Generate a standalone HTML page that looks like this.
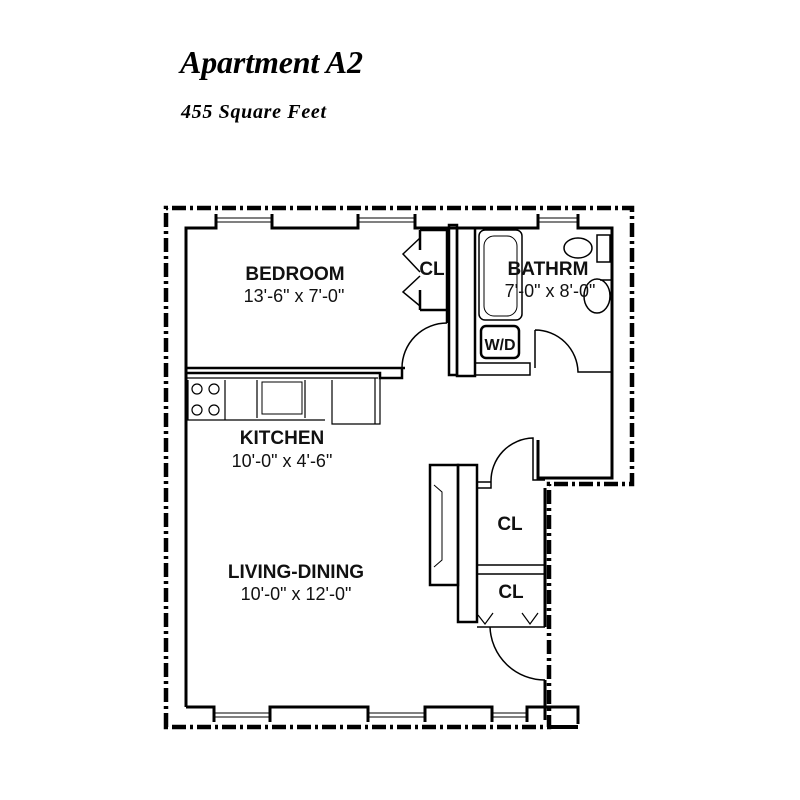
<!DOCTYPE html>
<html><head><meta charset="utf-8"><style>
html,body{margin:0;padding:0;background:#fff;width:800px;height:800px;overflow:hidden}
svg{display:block}
.t{font-family:"Liberation Serif",serif;font-style:italic;fill:#000}
.b{font-family:"Liberation Sans",sans-serif;font-weight:bold;fill:#111;text-anchor:middle}
.n{font-family:"Liberation Sans",sans-serif;fill:#111;text-anchor:middle}
</style></head><body>
<svg width="800" height="800" viewBox="0 0 800 800" xmlns="http://www.w3.org/2000/svg">
<text class="t" x="180" y="73" font-size="32" font-weight="bold" textLength="183">Apartment A2</text>
<text class="t" x="181" y="118" font-size="20" font-weight="bold" textLength="145">455 Square Feet</text>

<g fill="none" stroke="#000">
<path d="M166 727 L166 208 L632 208 L632 484 L549 484 L549 727 Z" stroke-width="4.5" stroke-dasharray="14 4 3 4"/>
<path d="M549 727 H578" stroke-width="4"/>
<path d="M186 707 L186 228 L216 228 L216 214 M272 214 L272 228 L358 228 L358 214 M415 214 L415 228 L538 228 L538 214 M578 214 L578 228 L612 228 L612 478 L538 478 L538 440" stroke-width="3"/>
<path d="M545 488 L545 627 M545 680 L545 720 M186 707 L214 707 L214 722 M270 722 L270 707 L368 707 L368 722 M425 722 L425 707 L492 707 L492 722 M527 722 L527 707 L578 707 L578 724" stroke-width="3"/>
<path d="M216 218 H272 M216 222 H272 M358 218 H415 M358 222 H415 M538 218 H578 M538 222 H578 M214 713 H270 M214 717 H270 M368 713 H425 M368 717 H425 M492 713 H527 M492 717 H527" stroke-width="1"/>
<path d="M186 368 H405 M186 373 H380 L380 378 H402 L402 368" stroke-width="2.5"/>
<path d="M420 230 H447 V323 M420 310 H447 M420 230 V250 M420 290 V310" stroke-width="2.5"/>
<path d="M420 238 L403 254 L420 272 M420 276 L403 292 L420 306" stroke-width="1.5"/>
<rect x="449" y="225" width="8" height="150" stroke-width="2.5"/>
<rect x="457" y="228" width="18" height="148" stroke-width="2.5"/>
<path d="M447 323 A45 45 0 0 0 402 368" stroke-width="1.5"/>
<rect x="479" y="230" width="43" height="90" rx="6" stroke-width="1.5"/>
<rect x="484" y="236" width="33" height="80" rx="10" stroke-width="1"/>
<rect x="481" y="326" width="38" height="32" rx="5" stroke-width="2.5"/>
<path d="M475 363 H530 V375 H475" stroke-width="1.5"/>
<path d="M535 330 V368 M535 330 A43 43 0 0 1 578 372 H612" stroke-width="1.5"/>
<ellipse cx="578" cy="248" rx="14" ry="10" stroke-width="1.5"/>
<path d="M597 235 H610 V262 H597 Z" stroke-width="1.5"/>
<ellipse cx="597" cy="296" rx="13" ry="17" stroke-width="1.5"/>
<path d="M600 280 H612 V316" stroke-width="1.5"/>
<path d="M186 378 H378 M188 380 V420 H325 M225 380 V420 M257 380 V418 M305 380 V418 M332 380 V424 H380 V378 M375 378 V424" stroke-width="1.2"/>
<rect x="262" y="382" width="40" height="32" stroke-width="1"/>
<circle cx="197" cy="389" r="5" stroke-width="1.2"/><circle cx="214" cy="389" r="5" stroke-width="1.2"/>
<circle cx="197" cy="410" r="5" stroke-width="1.2"/><circle cx="214" cy="410" r="5" stroke-width="1.2"/>
<path d="M477 482 H491 V488 H477 M491 482 A43 43 0 0 1 533 438 V480 H545" stroke-width="1.5"/>
<rect x="430" y="465" width="28" height="120" stroke-width="2.5"/>
<rect x="458" y="465" width="19" height="157" stroke-width="2.5"/>
<path d="M434 485 L442 492 V560 L434 567" stroke-width="1"/>
<path d="M477 565 H545 M477 574 H545 M477 627 H545" stroke-width="1.5"/>
<path d="M478 615 L485 624 L493 613 M522 613 L530 624 L538 613" stroke-width="1.2"/>
<path d="M490 627 A55 55 0 0 0 545 680" stroke-width="1.5"/>
</g>

<text class="b" x="295" y="280" font-size="19">BEDROOM</text>
<text class="n" x="294" y="302" font-size="18">13'-6" x 7'-0"</text>
<text class="b" x="432" y="275" font-size="19">CL</text>
<text class="b" x="548" y="275" font-size="19">BATHRM</text>
<text class="n" x="550" y="297" font-size="18">7'-0" x 8'-0"</text>
<text class="b" x="500" y="350" font-size="16">W/D</text>
<text class="b" x="282" y="444" font-size="19">KITCHEN</text>
<text class="n" x="282" y="467" font-size="18">10'-0" x 4'-6"</text>
<text class="b" x="510" y="530" font-size="19">CL</text>
<text class="b" x="511" y="598" font-size="19">CL</text>
<text class="b" x="296" y="578" font-size="19">LIVING-DINING</text>
<text class="n" x="296" y="600" font-size="18">10'-0" x 12'-0"</text>
</svg>
</body></html>
